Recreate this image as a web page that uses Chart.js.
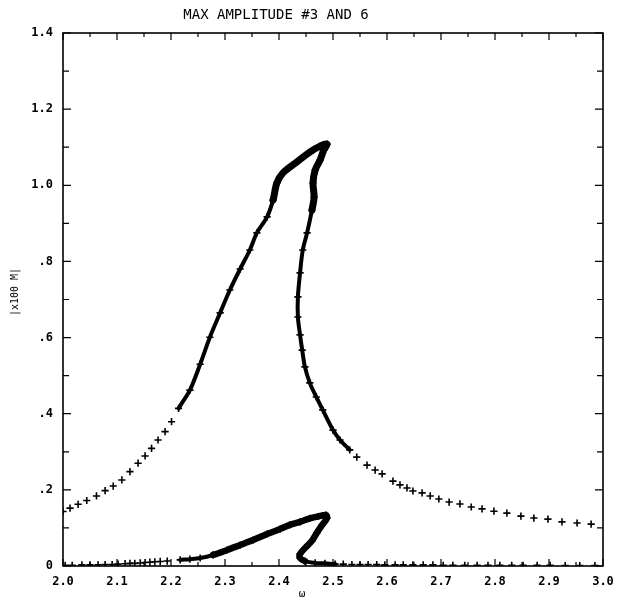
<!DOCTYPE html>
<html>
<head>
<meta charset="utf-8">
<script src="https://cdn.jsdelivr.net/npm/chart.js@4"></script>
<style>
  html, body { margin: 0; padding: 0; background: #fff; }
  canvas { display: block; }
</style>
</head>
<body>
<canvas id="grafico" width="625" height="607"></canvas>
<script>
// valores

const titulo = 'MAX AMPLITUDE #3 AND 6';
const rotuloY = '|x100 M|';
const rotuloX = 'ω';

// curva superior (#3)
const w3 = [2.000, 2.013, 2.028, 2.044, 2.062, 2.078, 2.093, 2.109, 2.124, 2.139,
            2.152, 2.164, 2.176, 2.189, 2.201, 2.214, 2.235, 2.254, 2.272, 2.291,
            2.309, 2.328, 2.346, 2.359, 2.378, 2.389, 2.396, 2.407, 2.433, 2.457,
            2.476, 2.489, 2.483, 2.476, 2.467, 2.463, 2.465, 2.461, 2.452, 2.444,
            2.439, 2.435, 2.435, 2.439, 2.443, 2.448, 2.457, 2.469, 2.481, 2.500,
            2.513, 2.531, 2.544, 2.563, 2.578, 2.591, 2.611, 2.624, 2.637, 2.648,
            2.665, 2.680, 2.696, 2.715, 2.735, 2.756, 2.776, 2.798, 2.822, 2.848,
            2.872, 2.898, 2.924, 2.952, 2.978];
const a3 = [0.143, 0.152, 0.162, 0.172, 0.184, 0.198, 0.210, 0.226, 0.248, 0.270,
            0.289, 0.309, 0.331, 0.353, 0.379, 0.414, 0.462, 0.530, 0.601, 0.665,
            0.725, 0.780, 0.830, 0.875, 0.917, 0.961, 1.006, 1.032, 1.061, 1.087,
            1.103, 1.108, 1.093, 1.066, 1.040, 1.006, 0.969, 0.935, 0.875, 0.830,
            0.770, 0.707, 0.654, 0.607, 0.567, 0.523, 0.481, 0.444, 0.410, 0.357,
            0.331, 0.305, 0.286, 0.265, 0.252, 0.242, 0.223, 0.213, 0.205, 0.197,
            0.192, 0.184, 0.176, 0.168, 0.163, 0.155, 0.150, 0.144, 0.139, 0.131,
            0.126, 0.123, 0.116, 0.113, 0.110];

// curva inferior (#6)
const w6 = [2.004, 2.017, 2.035, 2.050, 2.065, 2.078, 2.091, 2.102, 2.115, 2.124,
            2.133, 2.143, 2.152, 2.161, 2.170, 2.180, 2.193, 2.217, 2.235, 2.254,
            2.278, 2.304, 2.328, 2.352, 2.378, 2.402, 2.420, 2.439, 2.457, 2.472,
            2.487, 2.489, 2.480, 2.470, 2.461, 2.448, 2.439, 2.439, 2.448, 2.467,
            2.485, 2.504, 2.519, 2.535, 2.550, 2.565, 2.581, 2.596, 2.615, 2.630,
            2.648, 2.667, 2.685, 2.704, 2.722, 2.744, 2.767, 2.787, 2.809, 2.831,
            2.852, 2.878, 2.902, 2.930, 2.957, 2.985];
const a6 = [0.002, 0.002, 0.003, 0.003, 0.003, 0.004, 0.004, 0.005, 0.006, 0.007,
            0.007, 0.008, 0.009, 0.010, 0.011, 0.012, 0.013, 0.016, 0.018, 0.021,
            0.029, 0.042, 0.055, 0.068, 0.084, 0.097, 0.108, 0.116, 0.125, 0.130,
            0.134, 0.126, 0.108, 0.087, 0.066, 0.047, 0.032, 0.021, 0.013, 0.008,
            0.007, 0.005, 0.005, 0.004, 0.004, 0.004, 0.004, 0.003, 0.003, 0.003,
            0.003, 0.003, 0.003, 0.002, 0.002, 0.002, 0.002, 0.002, 0.002, 0.002,
            0.002, 0.002, 0.002, 0.001, 0.001, 0.001];

// ticks
const xMin = 2.0, xMax = 3.0;
const yMin = 0, yMax = 1.4;


const toPoints = (xs, ys) => xs.map((x, i) => ({ x: x, y: ys[i] }));

// trechos densos (marcadores sobrepostos) viram uma linha grossa
function estiloSegmento(ini, fim, grossoIni, grossoFim, largura, larguraGrossa) {
    return {
        borderColor: ctx => (ctx.p0DataIndex >= ini && ctx.p1DataIndex <= fim) ? '#000' : 'rgba(0,0,0,0)',
        borderWidth: ctx => (ctx.p0DataIndex >= grossoIni && ctx.p1DataIndex <= grossoFim) ? larguraGrossa : largura
    };
}

const molduraPlugin = {
    id: 'moldura',
    afterDraw(chart) {
        const c = chart.ctx;
        const area = chart.chartArea;
        const sx = chart.scales.x, sy = chart.scales.y;
        c.save();
        c.strokeStyle = '#000';
        c.lineWidth = 1.6;
        c.strokeRect(area.left, area.top, area.right - area.left, area.bottom - area.top);

        c.lineWidth = 1.2;
        c.beginPath();
        for (let i = 0; i <= 20; i++) {
            const px = sx.getPixelForValue(xMin + i * 0.05);
            const len = (i % 2 === 0) ? 7 : 4;
            c.moveTo(px, area.bottom); c.lineTo(px, area.bottom - len);
            c.moveTo(px, area.top); c.lineTo(px, area.top + len);
        }
        for (let j = 0; j <= 14; j++) {
            const py = sy.getPixelForValue(j * 0.1);
            const len = (j % 2 === 0) ? 8 : 6;
            c.moveTo(area.left, py); c.lineTo(area.left + len, py);
            c.moveTo(area.right, py); c.lineTo(area.right - len, py);
        }
        c.stroke();

        // titulo e rotulos dos eixos
        c.fillStyle = '#000';
        c.textAlign = 'center';
        c.textBaseline = 'middle';
        c.font = '14px "DejaVu Sans Mono"';
        c.fillText(titulo, 276, 15);

        c.font = '11px "DejaVu Sans Mono"';
        c.fillText(rotuloX, 302, 594);

        c.translate(15, 292);
        c.rotate(-Math.PI / 2);
        c.font = '10px "DejaVu Sans Mono"';
        c.fillText(rotuloY, 0, 0);
        c.restore();
    }
};

const ctx = document.getElementById('grafico').getContext('2d');

const grafico = new Chart(ctx, {
    type: 'scatter',
    data: {
        datasets: [{
            label: '#3',
            data: toPoints(w3, a3),
            showLine: true,
            tension: 0.3,
            borderColor: '#000',
            borderWidth: 4,
            borderCapStyle: 'round',
            borderJoinStyle: 'round',
            segment: estiloSegmento(15, 51, 25, 37, 4, 7),
            pointStyle: 'cross',
            pointRadius: 3.6,
            pointBorderWidth: 1.6,
            pointBorderColor: '#000',
            pointBackgroundColor: '#000'
        }, {
            label: '#6',
            data: toPoints(w6, a6),
            showLine: true,
            tension: 0.3,
            borderColor: '#000',
            borderWidth: 5,
            borderCapStyle: 'round',
            borderJoinStyle: 'round',
            segment: estiloSegmento(17, 41, 20, 38, 4, 6.5),
            pointStyle: 'cross',
            pointRadius: 3.6,
            pointBorderWidth: 1.6,
            pointBorderColor: '#000',
            pointBackgroundColor: '#000'
        }]
    },
    options: {
        responsive: false,
        animation: false,
        layout: {
            padding: { top: 33, right: 22, left: 0, bottom: 0 }
        },
        scales: {
            x: {
                type: 'linear',
                min: xMin,
                max: xMax,
                grid: { display: false, drawTicks: false },
                border: { display: false },
                afterFit: function(scale) { scale.height = 41; },
                ticks: {
                    stepSize: 0.1,
                    padding: 9,
                    color: '#000',
                    font: { family: 'DejaVu Sans Mono', size: 12, weight: 'bold' },
                    maxRotation: 0,
                    callback: function(value) {
                        return value.toFixed(1);
                    }
                }
            },
            y: {
                type: 'linear',
                min: yMin,
                max: yMax,
                grid: { display: false, drawTicks: false },
                border: { display: false },
                afterFit: function(scale) { scale.width = 63; },
                ticks: {
                    stepSize: 0.2,
                    padding: 10,
                    color: '#000',
                    font: { family: 'DejaVu Sans Mono', size: 12, weight: 'bold' },
                    callback: function(value) {
                        const k = Math.round(value * 10);
                        if (k === 0) return '0';
                        if (k < 10) return '.' + k;
                        return (k / 10).toFixed(1);
                    }
                }
            }
        },
        plugins: {
            legend: { display: false },
            title: { display: false },
            tooltip: { enabled: false }
        }
    },
    plugins: [molduraPlugin]
});
</script>
</body>
</html>
